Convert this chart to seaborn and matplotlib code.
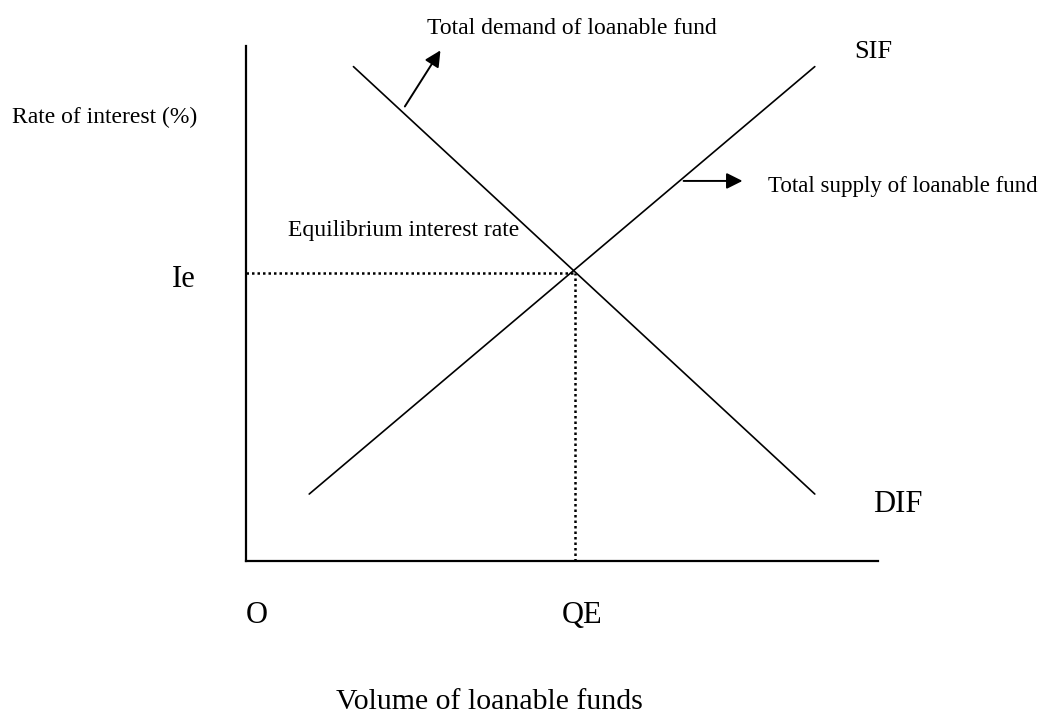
import pandas as pd
import seaborn as sns
import matplotlib.pyplot as plt

# data (abstract units, axes run 0-100 on both sides)
supply_qty = [10, 90]
supply_rate = [13, 96]
demand_qty = [17, 90]
demand_rate = [96, 13]
q_eq = 52
i_eq = 56

sns.set_style("white")
plt.rcParams['font.family'] = ['Liberation Serif', 'DejaVu Serif']
plt.rcParams['text.color'] = 'black'

supply = pd.DataFrame({'qty': supply_qty, 'rate': supply_rate})
demand = pd.DataFrame({'qty': demand_qty, 'rate': demand_rate})

fig = plt.figure(figsize=(10.52, 7.16), dpi=100)
ax = fig.add_axes([246 / 1052, (716 - 561) / 716, (878 - 246) / 1052, (561 - 46) / 716])

sns.lineplot(data=supply, x='qty', y='rate', color='black', lw=1.2, ax=ax)
sns.lineplot(data=demand, x='qty', y='rate', color='black', lw=1.2, ax=ax)

# equilibrium guides
ax.plot([0, q_eq], [i_eq, i_eq], color='black', ls=(0, (1, 1.2)), lw=1.8)
ax.plot([q_eq, q_eq], [0, i_eq], color='black', ls=(0, (1, 1.2)), lw=1.8)

ax.set_xlim(0, 100)
ax.set_ylim(0, 100)
ax.set_xticks([])
ax.set_yticks([])
ax.set_xlabel('')
ax.set_ylabel('')
for side in ['top', 'right']:
    ax.spines[side].set_visible(False)
for side in ['left', 'bottom']:
    ax.spines[side].set_color('black')
    ax.spines[side].set_linewidth(1.6)

# arrows to labels
arrow = dict(arrowstyle='-|>', color='black', lw=1.4, mutation_scale=24)
ax.annotate('', xy=(31.0, 99.6), xytext=(24.9, 87.8), arrowprops=arrow, annotation_clip=False)
ax.annotate('', xy=(79.0, 73.8), xytext=(68.8, 73.8), arrowprops=arrow, annotation_clip=False)

small = 17
big = 22
kw = dict(va='baseline', ha='left', clip_on=False, color='black')
ax.text(28.6, 102.3, 'Total demand of loanable fund', fontsize=small, **kw)
ax.text(96.2, 97.7, 'SIF', fontsize=19, **kw)
ax.text(-37.0, 85.0, 'Rate of interest (%)', fontsize=small, **kw)
ax.text(82.6, 71.7, 'Total supply of loanable fund', fontsize=16.5, **kw)
ax.text(6.6, 63.1, 'Equilibrium interest rate', fontsize=small, **kw)
ax.text(-11.7, 53.2, 'Ie', fontsize=big, **kw)
ax.text(99.2, 9.5, 'DIF', fontsize=big, **kw)
ax.text(0, -12.0, 'O', fontsize=big, **kw)
ax.text(50.0, -12.0, 'QE', fontsize=big, **kw)
ax.text(14.2, -28.7, 'Volume of loanable funds', fontsize=21.5, **kw)

fig.savefig('out.png', dpi=100)
